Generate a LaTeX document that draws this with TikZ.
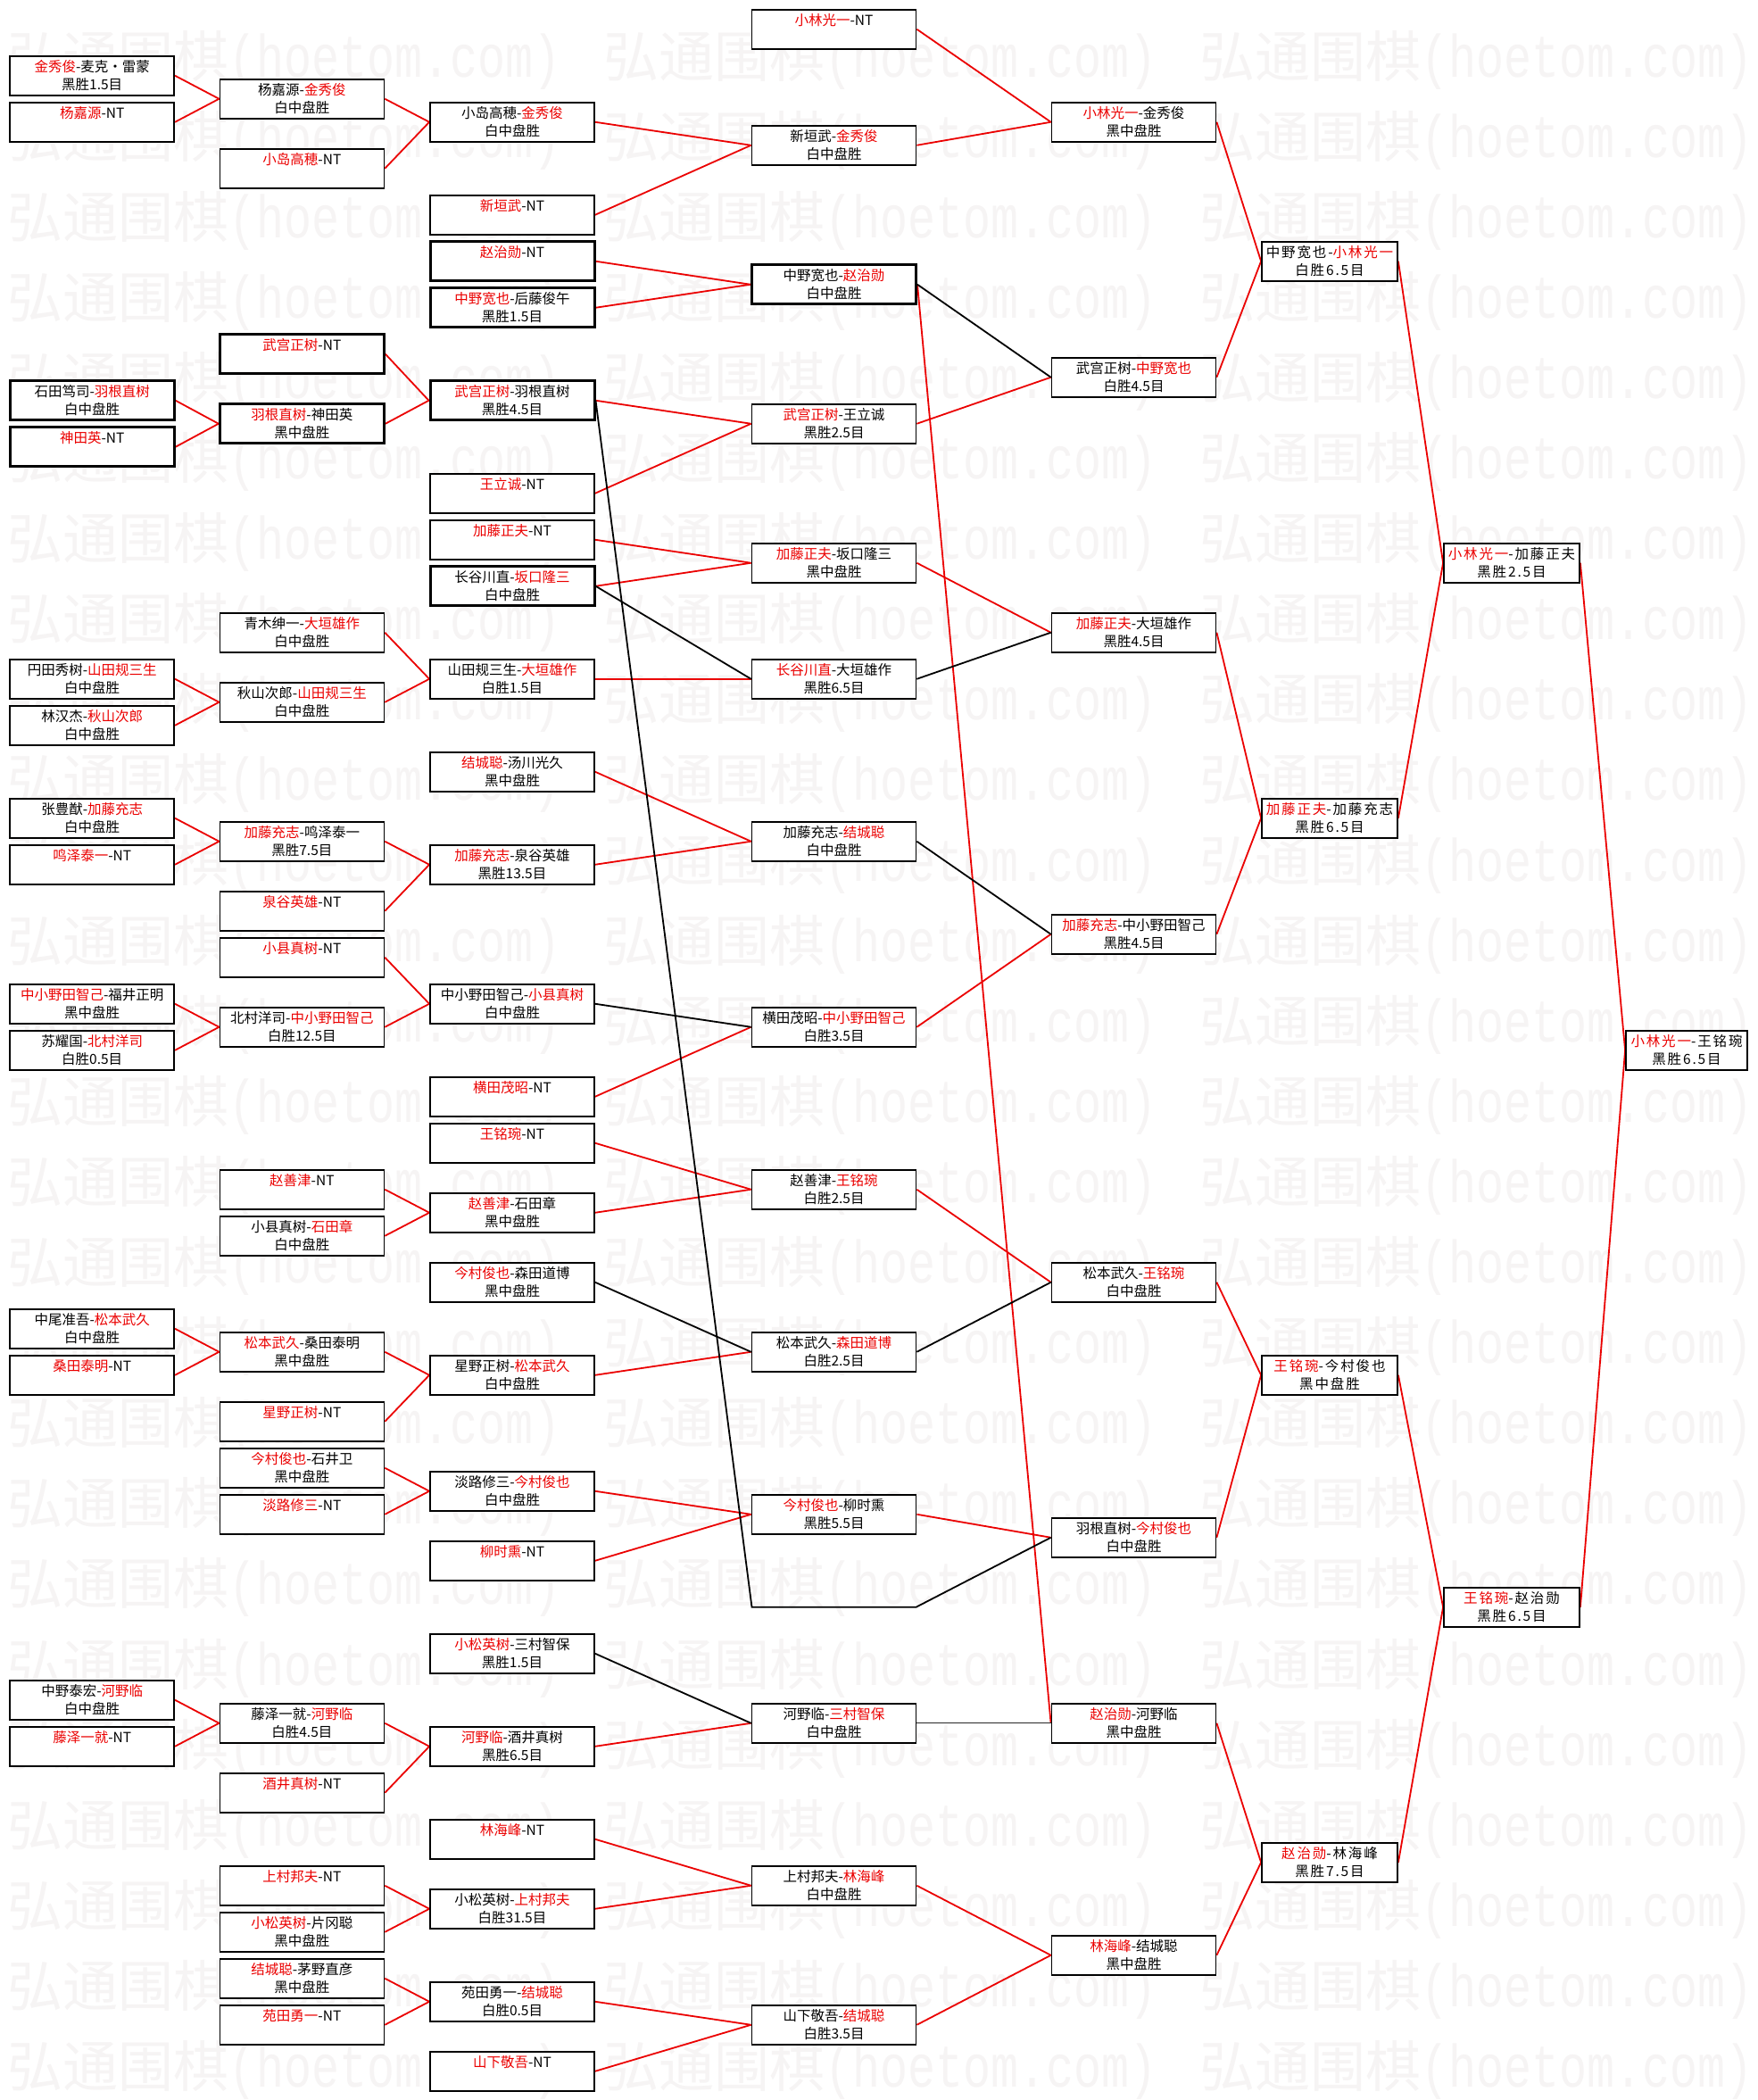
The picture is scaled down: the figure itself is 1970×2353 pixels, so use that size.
\documentclass[tikz,border=0pt]{standalone}
\usepackage{fontspec}
\usepackage{graphicx}
\setmainfont{Noto Sans CJK SC}
\newfontfamily\cjkwide[LetterSpace=12]{Noto Sans CJK SC}
\newfontfamily\wmcjk{Noto Sans CJK SC}
\newfontfamily\wmlat{Liberation Mono}
\definecolor{nred}{RGB}{235,0,0}
\definecolor{wmgray}{RGB}{246,244,244}
\newcommand\rn[1]{\textcolor{nred}{#1}}
\newcommand\tx[2]{\begin{tabular}{@{}c@{}}\rule{0pt}{18pt}#1\\\mbox{}#2\end{tabular}}
\def\cxA{103.2}\def\cxB{338.4}\def\cxC{574}\def\cxD{934.5}\def\cxE{1270.5}\def\cxF{1490}\def\cxG{1694}\def\cxH{1890}
\newcommand\bx[5][]{\edef\myboxx{\csname cx#2\endcsname}\node[box#2,#1] (#3) at (\myboxx,{32.75+26*#4}) {\tx#5};}
\pgfdeclarelayer{wmk}
\pgfdeclarelayer{lines}
\pgfsetlayers{wmk,lines,main}
\tikzset{
  bxbase/.style={draw=black,line width=1.8pt,fill=white,inner sep=0pt,minimum height=44pt,font=\fontsize{15.5}{20}\selectfont},
  boxA/.style={bxbase,minimum width=184pt},
  boxB/.style={boxA}, boxC/.style={boxA}, boxD/.style={boxA}, boxE/.style={boxA},
  boxF/.style={bxbase,minimum width=152pt,font=\cjkwide\fontsize{15.5}{20}\selectfont},
  boxG/.style={boxF},
  boxH/.style={bxbase,minimum width=136pt,font=\cjkwide\fontsize{15.5}{20}\selectfont},
  heavy/.style={line width=3pt},
  rl/.style={draw=nred,line width=1.8pt},
  kl/.style={draw=black,line width=1.8pt},
  klthin/.style={draw=black!85,line width=1.3pt},
  wm/.style={anchor=west,inner sep=0pt,text=wmgray},
}
\begin{document}
\begin{tikzpicture}[x=1pt,y=-1pt]
\begin{pgfonlayer}{wmk}
\fill[white] (0,0) rectangle (1970,2353);
\foreach \k in {0,...,25}{
  \foreach \j in {0,1,2}{
    \node[wm] (wm-\k-\j) at ({8.7+668*\j},{67+90.1*\k})
      {{\wmcjk\fontsize{62}{62}\selectfont 弘通围棋}\scalebox{1}[1.3]{\wmlat\fontsize{51.67}{52}\selectfont (hoetom.com)}};
  }
}
\end{pgfonlayer}
\path[use as bounding box] (0,0) rectangle (1970,2353);
% column A
\bx{A}{a2}{2}{{\rn{金秀俊}-麦克・雷蒙}{黑胜1.5目}}
\bx{A}{a4}{4}{{\rn{杨嘉源}-NT}{}}
\bx[heavy]{A}{a16}{16}{{石田笃司-\rn{羽根直树}}{白中盘胜}}
\bx[heavy]{A}{a18}{18}{{\rn{神田英}-NT}{}}
\bx{A}{a28}{28}{{円田秀树-\rn{山田规三生}}{白中盘胜}}
\bx{A}{a30}{30}{{林汉杰-\rn{秋山次郎}}{白中盘胜}}
\bx{A}{a34}{34}{{张豊猷-\rn{加藤充志}}{白中盘胜}}
\bx{A}{a36}{36}{{\rn{鸣泽泰一}-NT}{}}
\bx{A}{a42}{42}{{\rn{中小野田智己}-福井正明}{黑中盘胜}}
\bx{A}{a44}{44}{{苏耀国-\rn{北村洋司}}{白胜0.5目}}
\bx{A}{a56}{56}{{中尾准吾-\rn{松本武久}}{白中盘胜}}
\bx{A}{a58}{58}{{\rn{桑田泰明}-NT}{}}
\bx{A}{a72}{72}{{中野泰宏-\rn{河野临}}{白中盘胜}}
\bx{A}{a74}{74}{{\rn{藤泽一就}-NT}{}}
% column B
\bx{B}{b3}{3}{{杨嘉源-\rn{金秀俊}}{白中盘胜}}
\bx{B}{b6}{6}{{\rn{小岛高穂}-NT}{}}
\bx[heavy]{B}{b14}{14}{{\rn{武宫正树}-NT}{}}
\bx[heavy]{B}{b17}{17}{{\rn{羽根直树}-神田英}{黑中盘胜}}
\bx{B}{b26}{26}{{青木绅一-\rn{大垣雄作}}{白中盘胜}}
\bx{B}{b29}{29}{{秋山次郎-\rn{山田规三生}}{白中盘胜}}
\bx{B}{b35}{35}{{\rn{加藤充志}-鸣泽泰一}{黑胜7.5目}}
\bx{B}{b38}{38}{{\rn{泉谷英雄}-NT}{}}
\bx{B}{b40}{40}{{\rn{小县真树}-NT}{}}
\bx{B}{b43}{43}{{北村洋司-\rn{中小野田智己}}{白胜12.5目}}
\bx{B}{b50}{50}{{\rn{赵善津}-NT}{}}
\bx{B}{b52}{52}{{小县真树-\rn{石田章}}{白中盘胜}}
\bx{B}{b57}{57}{{\rn{松本武久}-桑田泰明}{黑中盘胜}}
\bx{B}{b60}{60}{{\rn{星野正树}-NT}{}}
\bx{B}{b62}{62}{{\rn{今村俊也}-石井卫}{黑中盘胜}}
\bx{B}{b64}{64}{{\rn{淡路修三}-NT}{}}
\bx{B}{b73}{73}{{藤泽一就-\rn{河野临}}{白胜4.5目}}
\bx{B}{b76}{76}{{\rn{酒井真树}-NT}{}}
\bx{B}{b80}{80}{{\rn{上村邦夫}-NT}{}}
\bx{B}{b82}{82}{{\rn{小松英树}-片冈聪}{黑中盘胜}}
\bx{B}{b84}{84}{{\rn{结城聪}-茅野直彦}{黑中盘胜}}
\bx{B}{b86}{86}{{\rn{苑田勇一}-NT}{}}
% column C
\bx{C}{c4}{4}{{小岛高穂-\rn{金秀俊}}{白中盘胜}}
\bx{C}{c8}{8}{{\rn{新垣武}-NT}{}}
\bx[heavy]{C}{c10}{10}{{\rn{赵治勋}-NT}{}}
\bx[heavy]{C}{c12}{12}{{\rn{中野宽也}-后藤俊午}{黑胜1.5目}}
\bx[heavy]{C}{c16}{16}{{\rn{武宫正树}-羽根直树}{黑胜4.5目}}
\bx{C}{c20}{20}{{\rn{王立诚}-NT}{}}
\bx{C}{c22}{22}{{\rn{加藤正夫}-NT}{}}
\bx[heavy]{C}{c24}{24}{{长谷川直-\rn{坂口隆三}}{白中盘胜}}
\bx{C}{c28}{28}{{山田规三生-\rn{大垣雄作}}{白胜1.5目}}
\bx{C}{c32}{32}{{\rn{结城聪}-汤川光久}{黑中盘胜}}
\bx{C}{c36}{36}{{\rn{加藤充志}-泉谷英雄}{黑胜13.5目}}
\bx{C}{c42}{42}{{中小野田智己-\rn{小县真树}}{白中盘胜}}
\bx{C}{c46}{46}{{\rn{横田茂昭}-NT}{}}
\bx{C}{c48}{48}{{\rn{王铭琬}-NT}{}}
\bx{C}{c51}{51}{{\rn{赵善津}-石田章}{黑中盘胜}}
\bx{C}{c54}{54}{{\rn{今村俊也}-森田道博}{黑中盘胜}}
\bx{C}{c58}{58}{{星野正树-\rn{松本武久}}{白中盘胜}}
\bx{C}{c63}{63}{{淡路修三-\rn{今村俊也}}{白中盘胜}}
\bx{C}{c66}{66}{{\rn{柳时熏}-NT}{}}
\bx{C}{c70}{70}{{\rn{小松英树}-三村智保}{黑胜1.5目}}
\bx{C}{c74}{74}{{\rn{河野临}-酒井真树}{黑胜6.5目}}
\bx{C}{c78}{78}{{\rn{林海峰}-NT}{}}
\bx{C}{c81}{81}{{小松英树-\rn{上村邦夫}}{白胜31.5目}}
\bx{C}{c85}{85}{{苑田勇一-\rn{结城聪}}{白胜0.5目}}
\bx{C}{c88}{88}{{\rn{山下敬吾}-NT}{}}
% column D
\bx{D}{d0}{0}{{\rn{小林光一}-NT}{}}
\bx{D}{d5}{5}{{新垣武-\rn{金秀俊}}{白中盘胜}}
\bx[heavy]{D}{d11}{11}{{中野宽也-\rn{赵治勋}}{白中盘胜}}
\bx{D}{d17}{17}{{\rn{武宫正树}-王立诚}{黑胜2.5目}}
\bx{D}{d23}{23}{{\rn{加藤正夫}-坂口隆三}{黑中盘胜}}
\bx{D}{d28}{28}{{\rn{长谷川直}-大垣雄作}{黑胜6.5目}}
\bx{D}{d35}{35}{{加藤充志-\rn{结城聪}}{白中盘胜}}
\bx{D}{d43}{43}{{横田茂昭-\rn{中小野田智己}}{白胜3.5目}}
\bx{D}{d50}{50}{{赵善津-\rn{王铭琬}}{白胜2.5目}}
\bx{D}{d57}{57}{{松本武久-\rn{森田道博}}{白胜2.5目}}
\bx{D}{d64}{64}{{\rn{今村俊也}-柳时熏}{黑胜5.5目}}
\bx{D}{d73}{73}{{河野临-\rn{三村智保}}{白中盘胜}}
\bx{D}{d80}{80}{{上村邦夫-\rn{林海峰}}{白中盘胜}}
\bx{D}{d86}{86}{{山下敬吾-\rn{结城聪}}{白胜3.5目}}
\coordinate (v1) at ({\cxD-92},{32.75+26*68});
\coordinate (v2) at ({\cxD+92},{32.75+26*68});
% column E
\bx{E}{e4}{4}{{\rn{小林光一}-金秀俊}{黑中盘胜}}
\bx{E}{e15}{15}{{武宫正树-\rn{中野宽也}}{白胜4.5目}}
\bx{E}{e26}{26}{{\rn{加藤正夫}-大垣雄作}{黑胜4.5目}}
\bx{E}{e39}{39}{{\rn{加藤充志}-中小野田智己}{黑胜4.5目}}
\bx{E}{e54}{54}{{松本武久-\rn{王铭琬}}{白中盘胜}}
\bx{E}{e65}{65}{{羽根直树-\rn{今村俊也}}{白中盘胜}}
\bx{E}{e73}{73}{{\rn{赵治勋}-河野临}{黑中盘胜}}
\bx{E}{e83}{83}{{\rn{林海峰}-结城聪}{黑中盘胜}}
% column F
\bx{F}{f10}{10}{{中野宽也-\rn{小林光一}}{白胜6.5目}}
\bx{F}{f34}{34}{{\rn{加藤正夫}-加藤充志}{黑胜6.5目}}
\bx{F}{f58}{58}{{\rn{王铭琬}-今村俊也}{黑中盘胜}}
\bx{F}{f79}{79}{{\rn{赵治勋}-林海峰}{黑胜7.5目}}
% column G
\bx{G}{g23}{23}{{\rn{小林光一}-加藤正夫}{黑胜2.5目}}
\bx{G}{g68}{68}{{\rn{王铭琬}-赵治勋}{黑胜6.5目}}
% column H
\bx{H}{h44}{44}{{\rn{小林光一}-王铭琬}{黑胜6.5目}}
% connectors
\begin{pgfonlayer}{lines}
\foreach \s/\t in {a2/b3,a4/b3,a16/b17,a18/b17,a28/b29,a30/b29,a34/b35,a36/b35,a42/b43,a44/b43,a56/b57,a58/b57,a72/b73,a74/b73,
  b3/c4,b6/c4,b14/c16,b17/c16,b26/c28,b29/c28,b35/c36,b38/c36,b40/c42,b43/c42,b50/c51,b52/c51,b57/c58,b60/c58,b62/c63,b64/c63,b73/c74,b76/c74,b80/c81,b82/c81,b84/c85,b86/c85,
  c4/d5,c8/d5,c10/d11,c12/d11,c16/d17,c20/d17,c22/d23,c24/d23,c28/d28,c32/d35,c36/d35,c46/d43,c48/d50,c51/d50,c58/d57,c63/d64,c66/d64,c74/d73,c78/d80,c81/d80,c85/d86,c88/d86,
  d0/e4,d5/e4,d17/e15,d11/e73,d23/e26,d43/e39,d50/e54,d64/e65,d80/e83,d86/e83,
  e4/f10,e15/f10,e26/f34,e39/f34,e54/f58,e65/f58,e73/f79,e83/f79,
  f10/g23,f34/g23,f58/g68,f79/g68,
  g23/h44,g68/h44}
  \draw[rl] (\s.east) -- (\t.west);
\foreach \s/\t in {c24/d28,c42/d43,c54/d57,c70/d73,d11/e15,d28/e26,d35/e39,d57/e54}
  \draw[kl] (\s.east) -- (\t.west);
\draw[kl] (c16.east) -- (v1) -- (v2) -- (e65.west);
\draw[klthin] (d73.east) -- (e73.west);
\end{pgfonlayer}
\end{tikzpicture}
\end{document}
